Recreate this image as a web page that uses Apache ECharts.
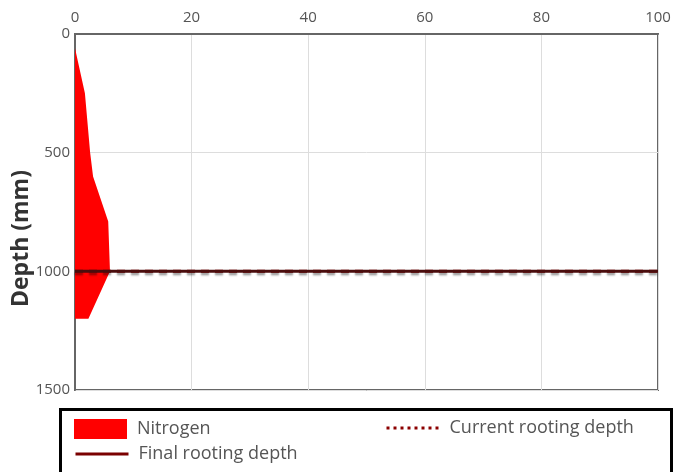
<!DOCTYPE html>
<html><head><meta charset="utf-8">
<script src="https://cdn.jsdelivr.net/npm/echarts@6/dist/echarts.min.js"></script>
<style>html,body{margin:0;padding:0;background:#fff}#c{width:682px;height:472px}</style>
</head><body><div id="c"></div>
<script>
// Nitrogen profile (value %, depth mm), outline of the filled shape
var nitrogenDepth = [60, 250, 500, 600, 790, 1000, 1200, 1200];
var nitrogenValue = [0, 1.7, 2.6, 3.1, 5.7, 6.0, 2.3, 0];
var finalRootingDepth = 1000;
var currentRootingDepth = 1000;
var xTicks = [0, 20, 40, 60, 80, 100];
var yTicks = [0, 500, 1000, 1500];

var font = '"Open Sans", Lato, sans-serif';
var chart = echarts.init(document.getElementById('c'));
var nitroPoints = nitrogenValue.map(function (v, i) { return [v, nitrogenDepth[i]]; });
var noSymbol = { color: 'rgba(0,0,0,0)', borderWidth: 0, opacity: 0 };
var legendText = { color: '#555', fontSize: 18, fontFamily: font, lineHeight: 20, padding: [6, 0, 0, 5] };

chart.setOption({
  animation: false,
  textStyle: { fontFamily: font },
  grid: { left: 75, right: 24, top: 34, bottom: 82, show: true, borderColor: '#666', borderWidth: 2,
          containLabel: false, outerBoundsMode: 'none' },
  xAxis: {
    type: 'value', position: 'top', min: xTicks[0], max: xTicks[xTicks.length - 1], interval: 20,
    axisLine: { show: true, lineStyle: { color: '#666', width: 2 } },
    axisTick: { show: false },
    axisLabel: { color: '#555', fontSize: 15, margin: 9, fontFamily: font },
    splitLine: { show: true, lineStyle: { color: '#ddd', width: 1 } }
  },
  yAxis: {
    type: 'value', inverse: true, min: yTicks[0], max: yTicks[yTicks.length - 1], interval: 500,
    name: 'Depth (mm)', nameLocation: 'middle', nameGap: 42, nameMoveOverlap: false,
    nameTextStyle: { fontSize: 23, fontWeight: 'bold', color: '#333', fontFamily: font,
                     padding: [0, 53, 0, 0] },
    axisLine: { show: true, lineStyle: { color: '#666', width: 2 } },
    axisTick: { show: false },
    axisLabel: { color: '#555', fontSize: 15, margin: 5, fontFamily: font,
                 formatter: function (v) { return String(v); } },
    splitLine: { show: true, lineStyle: { color: '#ddd', width: 1 } }
  },
  legend: [
    {
      left: 74, top: 416, padding: 0, itemWidth: 53, itemHeight: 20, textStyle: legendText,
      data: [{ name: 'Nitrogen', icon: 'rect', itemStyle: { color: '#ff0000' } }]
    },
    {
      left: 74, top: 441, padding: 0, itemWidth: 53, itemHeight: 20, textStyle: legendText,
      data: [{ name: 'Final rooting depth', itemStyle: noSymbol,
               lineStyle: { color: '#7a0000', width: 3, type: 'solid' } }]
    },
    {
      left: 385, top: 415, padding: 0, itemWidth: 53, itemHeight: 20, textStyle: legendText,
      data: [{ name: 'Current rooting depth', itemStyle: noSymbol,
               lineStyle: { color: '#8b0000', width: 3, type: [3, 4] } }]
    }
  ],
  graphic: [{
    type: 'rect', left: 58, top: 407, silent: true,
    shape: { width: 611, height: 80 },
    style: { fill: 'none', stroke: '#000', lineWidth: 3 }
  }],
  series: [
    {
      name: 'Nitrogen', type: 'custom', data: nitroPoints, itemStyle: { color: '#ff0000' },
      clip: true, z: 1,
      renderItem: function (params, api) {
        if (params.dataIndex !== 0) return null;
        var pts = nitroPoints.map(function (p) { return api.coord(p); });
        pts.push(api.coord([0, nitrogenDepth[nitrogenDepth.length - 1]]));
        pts.push(api.coord([0, nitrogenDepth[0]]));
        return { type: 'polygon', shape: { points: pts }, style: { fill: '#ff0000' } };
      }
    },
    {
      name: 'Current rooting depth', type: 'line', symbol: 'none', z: 3,
      data: [[xTicks[0], currentRootingDepth], [xTicks[xTicks.length - 1], currentRootingDepth]],
      itemStyle: { color: '#8b0000' },
      lineStyle: { color: '#8b0000', width: 3, type: [8, 6],
                   shadowColor: 'rgba(0,0,0,0.4)', shadowBlur: 2, shadowOffsetY: 2.5 }
    },
    {
      name: 'Final rooting depth', type: 'line', symbol: 'none', z: 4,
      data: [[xTicks[0], finalRootingDepth], [xTicks[xTicks.length - 1], finalRootingDepth]],
      itemStyle: { color: '#7a0000' },
      lineStyle: { color: '#4a0d0d', width: 3 }
    }
  ]
});
</script></body></html>
